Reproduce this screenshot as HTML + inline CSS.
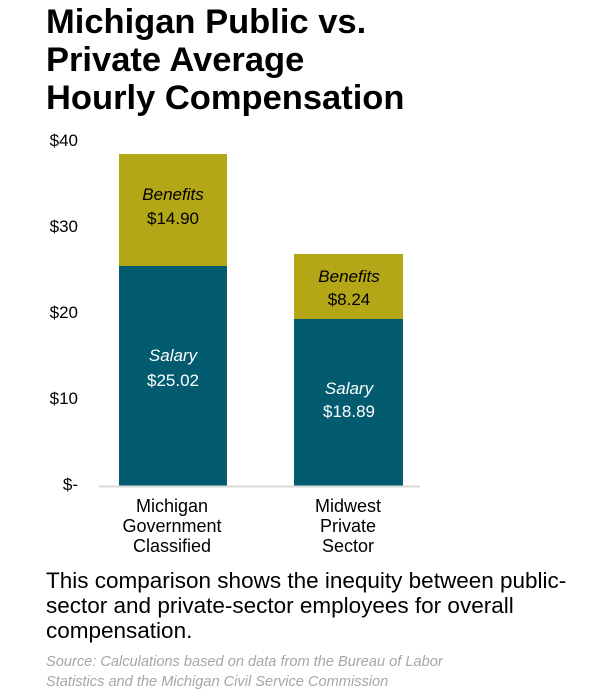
<!DOCTYPE html>
<html><head><style>body{margin:0;background:#fff}svg{display:block}</style></head><body>
<svg width="600" height="699" viewBox="0 0 600 699" xmlns="http://www.w3.org/2000/svg" font-family="Liberation Sans, Arial, sans-serif">
<g font-size="34.5" font-weight="bold" fill="#000">
<text x="46" y="33">Michigan Public vs.</text>
<text x="46" y="71">Private Average</text>
<text x="46" y="109">Hourly Compensation</text>
</g>
<g font-size="17" fill="#000" text-anchor="end">
<text x="78" y="146">$40</text>
<text x="78" y="232">$30</text>
<text x="78" y="318">$20</text>
<text x="78" y="404">$10</text>
<text x="78" y="490">$-</text>
</g>
<rect x="119" y="154" width="108" height="112" fill="#B3A617"/>
<rect x="119" y="266" width="108" height="220" fill="#035B70"/>
<rect x="294" y="254" width="109" height="65" fill="#B3A617"/>
<rect x="294" y="319" width="109" height="167" fill="#035B70"/>
<line x1="99" y1="486.5" x2="420" y2="486.5" stroke="#d9d9d9" stroke-width="2"/>
<g font-size="17" text-anchor="middle">
<text x="173" y="200" font-style="italic">Benefits</text>
<text x="173" y="224">$14.90</text>
<text x="349" y="282" font-style="italic">Benefits</text>
<text x="349" y="305">$8.24</text>
<g fill="#fff">
<text x="173" y="361" font-style="italic">Salary</text>
<text x="173" y="386">$25.02</text>
<text x="349" y="394" font-style="italic">Salary</text>
<text x="349" y="417">$18.89</text>
</g>
</g>
<g font-size="18" text-anchor="middle">
<text x="172" y="512">Michigan</text>
<text x="172" y="532">Government</text>
<text x="172" y="552">Classified</text>
<text x="348" y="512">Midwest</text>
<text x="348" y="532">Private</text>
<text x="348" y="552">Sector</text>
</g>
<g font-size="22.5" fill="#000">
<text x="46" y="588">This comparison shows the inequity between public-</text>
<text x="46" y="613">sector and private-sector employees for overall</text>
<text x="46" y="638">compensation.</text>
</g>
<g font-size="14.6" fill="#a6a6a6" font-style="italic">
<text x="46" y="666">Source: Calculations based on data from the Bureau of Labor</text>
<text x="46" y="686">Statistics and the Michigan Civil Service Commission</text>
</g>
</svg>
</body></html>
